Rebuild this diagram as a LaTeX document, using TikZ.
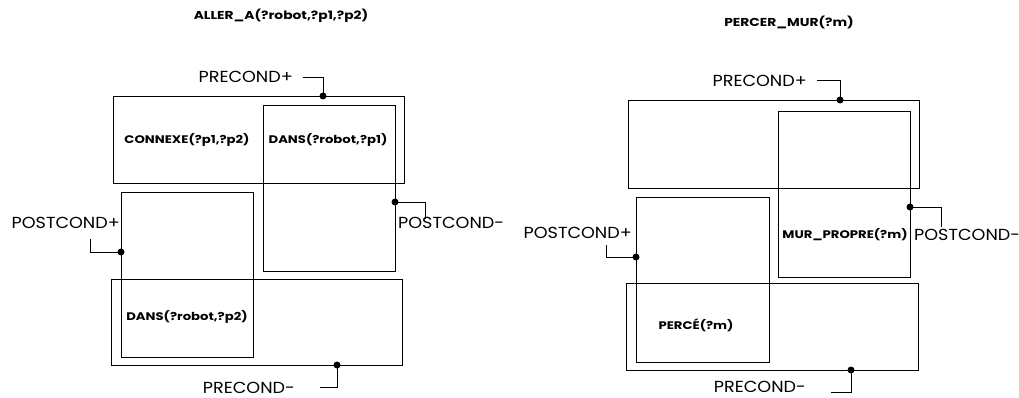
\documentclass[tikz,border=0pt]{standalone}
\usepackage{fontspec}
\setmainfont{Poppins}
\newfontfamily\widebold[FakeStretch=1.2]{Poppins Bold}
\newfontfamily\wideregular[FakeStretch=1.1]{Poppins}
\begin{document}
\begin{tikzpicture}[x=1pt,y=-1pt,
  box/.style={draw, line width=0.7pt, inner sep=0pt},
  dot/.style={circle, fill, inner sep=0pt, minimum size=7pt},
  lbl/.style={font=\fontsize{16}{16}\wideregular, inner sep=0pt},
  cond/.style={font=\fontsize{11}{11}\widebold, inner sep=0pt},
  ttl/.style={font=\fontsize{11.5}{11.5}\widebold, inner sep=0pt},
  wire/.style={line width=0.8pt}]
\useasboundingbox (0,0) rectangle (1019,398);

% ---------- left diagram ----------
\node[ttl] (t1) at (281,16) {ALLER\_A(?robot,?p1,?p2)};
\node[box, minimum width=291pt, minimum height=87pt] (A1) at (258.5,139.5) {};
\node[box, minimum width=132pt, minimum height=166pt] (A2) at (329,188) {};
\node[box, minimum width=132pt, minimum height=165pt] (A3) at (187,274.5) {};
\node[box, minimum width=291pt, minimum height=86pt] (A4) at (256.5,322) {};
\node[cond] (c1) at (187,140) {CONNEXE(?p1,?p2)};
\node[cond] (c2) at (328,140) {DANS(?robot,?p1)};
\node[cond] (c3) at (187,317) {DANS(?robot,?p2)};
\node[dot] (d1) at (323,96) {};
\node[dot] (d2) at (395,202) {};
\node[dot] (d3) at (121,252) {};
\node[dot] (d4) at (337,365) {};
\node[lbl, anchor=east] (l1) at (293,77) {PRECOND+};
\node[lbl, anchor=west] (l2) at (398,223) {POSTCOND-};
\node[lbl, anchor=east] (l3) at (120,223) {POSTCOND+};
\node[lbl, anchor=east] (l4) at (295,388) {PRECOND-};
\draw[wire] ([xshift=10pt]l1.east) -| (d1.center);
\draw[wire] (d2.center) -| ([xshift=27pt,yshift=-2pt]l2.north west);
\draw[wire] (d3.center) -| ([xshift=-30pt,yshift=-10pt]l3.south east);
\draw[wire] (d4.center) |- ([xshift=25pt,yshift=1pt]l4.east);

% ---------- right diagram ----------
\node[ttl] (t2) at (789,22) {PERCER\_MUR(?m)};
\node[box, minimum width=291pt, minimum height=88pt] (B1) at (773.5,144) {};
\node[box, minimum width=132pt, minimum height=166pt] (B2) at (844,194) {};
\node[box, minimum width=133pt, minimum height=165pt] (B3) at (702.5,279.5) {};
\node[box, minimum width=292pt, minimum height=87pt] (B4) at (772,326.5) {};
\node[cond] (c4) at (845,235) {MUR\_PROPRE(?m)};
\node[cond] (c5) at (696,325) {PERCÉ(?m)};
\node[dot] (e1) at (840,100) {};
\node[dot] (e2) at (910,207) {};
\node[dot] (e3) at (636,257) {};
\node[dot] (e4) at (851,370) {};
\node[lbl, anchor=east] (m1) at (807,81) {PRECOND+};
\node[lbl, anchor=west] (m2) at (914,235) {POSTCOND-};
\node[lbl, anchor=east] (m3) at (632,233) {POSTCOND+};
\node[lbl, anchor=east] (m4) at (806,387) {PRECOND-};
\draw[wire] ([xshift=10pt,yshift=1pt]m1.east) -| (e1.center);
\draw[wire] (e2.center) -| ([xshift=27pt,yshift=2pt]m2.north west);
\draw[wire] (e3.center) -| ([xshift=-26pt,yshift=-6pt]m3.south east);
\draw[wire] (e4.center) |- ([xshift=25pt,yshift=-5pt]m4.east);
\end{tikzpicture}
\end{document}
